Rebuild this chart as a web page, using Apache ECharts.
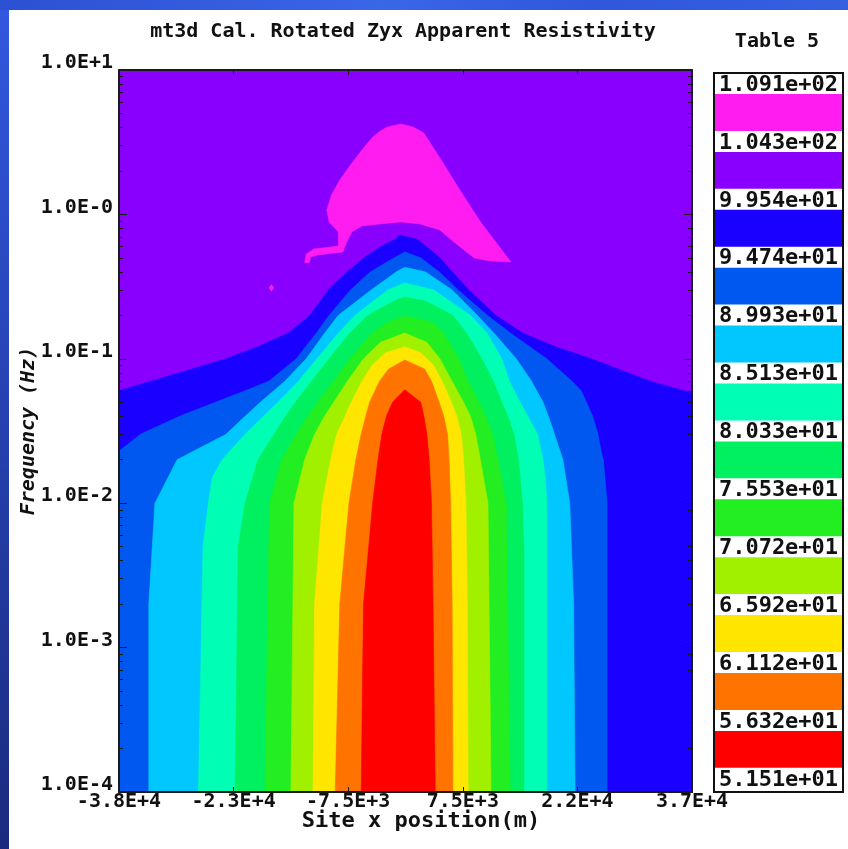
<!DOCTYPE html>
<html>
<head>
<meta charset="utf-8">
<script src="https://cdn.jsdelivr.net/npm/echarts@6.0.0/dist/echarts.min.js"></script>
<style>
  html, body { margin: 0; padding: 0; background: #fff; }
  #chart { width: 848px; height: 849px; }
</style>
</head>
<body>
<div id="chart"></div>
<script>
const xTickValues = [-37500, -22500, -7500, 7500, 22500, 37500];
const xTickLabels = ['-3.8E+4', '-2.3E+4', '-7.5E+3', '7.5E+3', '2.2E+4', '3.7E+4'];
const yTickLabels = ['1.0E-4', '1.0E-3', '1.0E-2', '1.0E-1', '1.0E-0', '1.0E+1'];
const levelLabels = ['1.091e+02', '1.043e+02', '9.954e+01', '9.474e+01', '8.993e+01', '8.513e+01',
  '8.033e+01', '7.553e+01', '7.072e+01', '6.592e+01', '6.112e+01', '5.632e+01', '5.151e+01'];
const bandColors = ['#ff1cf0', '#8a00ff', '#1a00ff', '#0058f0', '#00c8ff', '#00ffb4',
  '#00f060', '#22ee22', '#a0f000', '#ffe600', '#ff7400', '#ff0000'];

// contour regions as rows of [frequency (Hz), left x (m), right x (m)], bottom to top
const fullField = [[1e-4, -37500, 37500], [10, -37500, 37500]];
const under9954 = [
  [1e-4, -37500, 37500], [0.058, -37500, 37500], [0.06, -37500, 36500], [0.07, -33300, 32000],
  [0.08, -29600, 29100], [0.1, -23500, 24300], [0.12, -19500, 19800], [0.15, -15400, 15400],
  [0.2, -12500, 11800], [0.3, -10100, 8300], [0.4, -7600, 6100], [0.5, -5400, 4500],
  [0.6, -3200, 2700], [0.67, -1400, 1600], [0.72, -700, -700]
];
const under9474 = [
  [1e-4, -37500, 26400], [0.01, -37500, 26400], [0.02, -37500, 25900], [0.023, -37500, 25600],
  [0.03, -34700, 25200], [0.04, -29600, 24500], [0.05, -24900, 23700], [0.06, -21000, 23000],
  [0.07, -17900, 21800], [0.1, -14300, 18500], [0.15, -11700, 13800], [0.2, -10000, 10700],
  [0.3, -7200, 6900], [0.4, -4600, 4400], [0.5, -1500, 2000], [0.55, -100, -100]
];
const under8993 = [
  [1e-4, -33600, 22200], [0.002, -33600, 22000], [0.01, -32800, 21500], [0.02, -29900, 20600],
  [0.03, -23500, 19500], [0.04, -21000, 18700], [0.05, -19000, 18000], [0.07, -15800, 16500],
  [0.1, -13000, 14500], [0.15, -10600, 11600], [0.2, -8800, 9400], [0.3, -4500, 6100],
  [0.4, -1200, 2600], [0.43, -100, -100]
];
const under8513 = [
  [1e-4, -27100, 18500], [0.005, -26500, 18500], [0.01, -25800, 18500], [0.015, -25300, 18300],
  [0.02, -24000, 18000], [0.03, -21000, 17300], [0.04, -18600, 16000], [0.05, -16700, 15000],
  [0.07, -14000, 13600], [0.1, -11600, 12600], [0.15, -8800, 10700], [0.2, -6600, 8500],
  [0.3, -2300, 3700], [0.335, -100, -100]
];
const under8033 = [
  [1e-4, -22300, 15500], [0.005, -21900, 15500], [0.01, -21000, 15300], [0.02, -19300, 14800],
  [0.03, -17200, 14200], [0.04, -15700, 13400], [0.05, -14400, 12600], [0.07, -12300, 11500],
  [0.1, -10000, 10000], [0.15, -7300, 8000], [0.2, -4900, 6200], [0.25, -1600, 2700],
  [0.268, -100, -100]
];
const under7553 = [
  [1e-4, -18400, 13700], [0.01, -17800, 13200], [0.02, -16200, 12100], [0.03, -14300, 11400],
  [0.04, -12800, 10500], [0.05, -11500, 9600], [0.07, -9400, 8200], [0.1, -7300, 7000],
  [0.15, -4400, 5000], [0.18, -2300, 3500], [0.198, -100, -100]
];
const under7072 = [
  [1e-4, -15000, 11200], [0.01, -14600, 10800], [0.02, -13200, 9800], [0.03, -11900, 9200],
  [0.04, -10600, 8500], [0.05, -9400, 7600], [0.07, -7600, 6100], [0.1, -5500, 4500],
  [0.13, -3300, 2800], [0.151, -100, -100]
];
const under6592 = [
  [1e-4, -12100, 8200], [0.002, -11900, 8100], [0.01, -10900, 7900], [0.02, -9800, 7600],
  [0.03, -9000, 7300], [0.04, -7900, 6700], [0.05, -7100, 6000], [0.07, -5700, 4800],
  [0.09, -4400, 3700], [0.11, -2600, 2000], [0.121, -100, -100]
];
const under6112 = [
  [1e-4, -9200, 6200], [0.002, -8600, 6100], [0.01, -7400, 5900], [0.02, -6500, 5700],
  [0.03, -5800, 5500], [0.04, -5200, 5000], [0.05, -4700, 4400], [0.07, -3400, 3400],
  [0.085, -2200, 2500], [0.098, -100, -100]
];
const under5632 = [
  [1e-4, -5800, 3900], [0.002, -5500, 3600], [0.01, -4300, 3400], [0.02, -3600, 3100],
  [0.03, -3100, 2800], [0.04, -2500, 2400], [0.05, -1700, 2000], [0.061, -100, -100]
];
// the high zone above 1.043e+02, outline points [x (m), frequency (Hz)]
const over10430 = [
  [-3300, 3.78], [-2400, 4.03], [-600, 4.23], [1000, 4.03], [2400, 3.66], [4500, 2.46],
  [7100, 1.48], [9800, 0.889], [12100, 0.615], [13800, 0.468], [11100, 0.475], [9000, 0.499],
  [6500, 0.634], [4500, 0.78], [1900, 0.859], [-700, 0.886], [-3300, 0.859], [-5700, 0.832],
  [-7000, 0.757], [-7700, 0.644], [-8200, 0.549], [-11500, 0.524], [-12400, 0.507],
  [-12600, 0.463], [-13200, 0.463], [-13000, 0.532], [-12000, 0.576], [-8800, 0.604],
  [-8800, 0.757], [-10000, 0.886], [-10300, 1.07], [-9700, 1.36], [-8600, 1.73],
  [-7300, 2.16], [-5700, 2.79], [-4300, 3.44]
];
const over10430Spot = [[-17850, 0.31], [-17550, 0.327], [-17250, 0.31], [-17550, 0.294]];

// log minor ticks between the decades
const minorTickValues = [];
for (let d = -4; d < 1; d++) {
  for (let k = 2; k <= 9; k++) minorTickValues.push(k * Math.pow(10, d));
}

const FONT = 'DejaVu Sans Mono';

function rowsToPolygon(rows) {
  const left = rows.map(r => [r[1], r[0]]);
  const right = rows.slice().reverse().map(r => [r[2], r[0]]);
  return left.concat(right);
}

const regions = [
  { pts: rowsToPolygon(fullField), color: bandColors[1] },
  { pts: over10430, color: bandColors[0] },
  { pts: over10430Spot, color: bandColors[0] },
  { pts: rowsToPolygon(under9954), color: bandColors[2] },
  { pts: rowsToPolygon(under9474), color: bandColors[3] },
  { pts: rowsToPolygon(under8993), color: bandColors[4] },
  { pts: rowsToPolygon(under8513), color: bandColors[5] },
  { pts: rowsToPolygon(under8033), color: bandColors[6] },
  { pts: rowsToPolygon(under7553), color: bandColors[7] },
  { pts: rowsToPolygon(under7072), color: bandColors[8] },
  { pts: rowsToPolygon(under6592), color: bandColors[9] },
  { pts: rowsToPolygon(under6112), color: bandColors[10] },
  { pts: rowsToPolygon(under5632), color: bandColors[11] }
];

// legend table on the right
const legendTop = 85, legendStep = 57.9;
const legendEls = [{
  type: 'rect', shape: { x: 714, y: 73, width: 129, height: 719 },
  style: { fill: '#fff', stroke: '#111', lineWidth: 2 }
}];
bandColors.forEach((c, i) => {
  const y0 = legendTop + legendStep * i + 9;
  const y1 = legendTop + legendStep * (i + 1) - 12;
  legendEls.push({ type: 'rect', shape: { x: 715, y: y0, width: 127, height: y1 - y0 }, style: { fill: c } });
});
levelLabels.forEach((t, i) => {
  legendEls.push({
    type: 'text', x: 778.5, y: legendTop + legendStep * i,
    style: { text: t, align: 'center', verticalAlign: 'middle', font: 'bold 22px ' + FONT, fill: '#111' }
  });
});

const frameLine = { show: true, onZero: false, lineStyle: { color: '#1a1a1a', width: 2 } };
const noLine = { show: false, onZero: false };

function logAxis(position, opts) {
  return Object.assign({
    type: 'log', logBase: 10, min: 1e-4, max: 10, position: position,
    splitLine: { show: false }, axisLabel: { show: false }, z: 10
  }, opts);
}

const chart = echarts.init(document.getElementById('chart'));
chart.setOption({
  animation: false,
  backgroundColor: '#fff',
  grid: { left: 119, top: 70, width: 573, height: 722 },
  xAxis: [
    {
      type: 'value', min: -37500, max: 37500, position: 'bottom', z: 10,
      axisLine: frameLine, splitLine: { show: false },
      axisTick: { inside: true, length: 5, customValues: xTickValues, lineStyle: { color: '#1a1a1a' } },
      axisLabel: {
        customValues: xTickValues, margin: 0, color: '#111', fontFamily: FONT, fontWeight: 'bold', fontSize: 20,
        formatter: v => xTickLabels[Math.round((v + 37500) / 15000)]
      },
      name: 'Site x position(m)', nameLocation: 'middle', nameGap: 18, nameMoveOverlap: false,
      nameTextStyle: { color: '#111', fontFamily: FONT, fontWeight: 'bold', fontSize: 22, padding: [0, 0, 0, 31] }
    },
    {
      type: 'value', min: -37500, max: 37500, position: 'top', z: 10,
      axisLine: frameLine, splitLine: { show: false },
      axisTick: { inside: true, length: 5, customValues: xTickValues, lineStyle: { color: '#1a1a1a' } },
      axisLabel: { show: false }
    }
  ],
  yAxis: [
    logAxis('left', {
      axisLine: frameLine,
      axisTick: { inside: true, length: 8, lineStyle: { color: '#1a1a1a' } },
      axisLabel: {
        margin: 6, color: '#111', fontFamily: FONT, fontWeight: 'bold', fontSize: 20,
        verticalAlign: 'bottom', lineHeight: 14,
        formatter: v => yTickLabels[Math.round(Math.log10(v)) + 4]
      },
      name: 'Frequency (Hz)', nameLocation: 'middle', nameGap: 80, nameRotate: 90, nameMoveOverlap: false,
      nameTextStyle: { color: '#111', fontFamily: FONT, fontWeight: 'bold', fontStyle: 'italic', fontSize: 20 }
    }),
    logAxis('right', {
      axisLine: frameLine,
      axisTick: { inside: true, length: 8, lineStyle: { color: '#1a1a1a' } }
    }),
    logAxis('left', {
      axisLine: noLine,
      axisTick: { inside: true, length: 4, customValues: minorTickValues, lineStyle: { color: '#1a1a1a' } }
    }),
    logAxis('right', {
      axisLine: noLine,
      axisTick: { inside: true, length: 4, customValues: minorTickValues, lineStyle: { color: '#1a1a1a' } }
    })
  ],
  graphic: [
    {
      type: 'rect', shape: { x: 0, y: 0, width: 9, height: 849 }, silent: true,
      style: { fill: new echarts.graphic.LinearGradient(0, 0, 0, 1, [
        { offset: 0, color: '#3158e0' }, { offset: 1, color: '#1a2a7e' }]) }
    },
    {
      type: 'rect', shape: { x: 0, y: 0, width: 848, height: 10 }, silent: true,
      style: { fill: new echarts.graphic.LinearGradient(0, 0, 1, 0, [
        { offset: 0, color: '#2c50d4' }, { offset: 0.45, color: '#3a66e8' }, { offset: 0.7, color: '#2f58dc' },
        { offset: 1, color: '#3560e2' }]) }
    },
    {
      type: 'text', x: 403, y: 32,
      style: { text: 'mt3d Cal. Rotated Zyx Apparent Resistivity', align: 'center', verticalAlign: 'middle',
        font: 'bold 20px ' + FONT, fill: '#111' }
    },
    {
      type: 'text', x: 777, y: 42,
      style: { text: 'Table 5', align: 'center', verticalAlign: 'middle', font: 'bold 20px ' + FONT, fill: '#111' }
    },
    { type: 'group', children: legendEls }
  ],
  series: [{
    type: 'custom',
    xAxisIndex: 0,
    yAxisIndex: 0,
    silent: true,
    clip: true,
    encode: { x: 0, y: 1 },
    data: regions.map((r, i) => [0, 1, i]),
    renderItem: (params, api) => {
      const r = regions[params.dataIndex];
      return {
        type: 'polygon',
        shape: { points: r.pts.map(p => api.coord(p)) },
        style: { fill: r.color, stroke: r.color, lineWidth: 0.6 }
      };
    }
  }]
});
</script>
</body>
</html>
